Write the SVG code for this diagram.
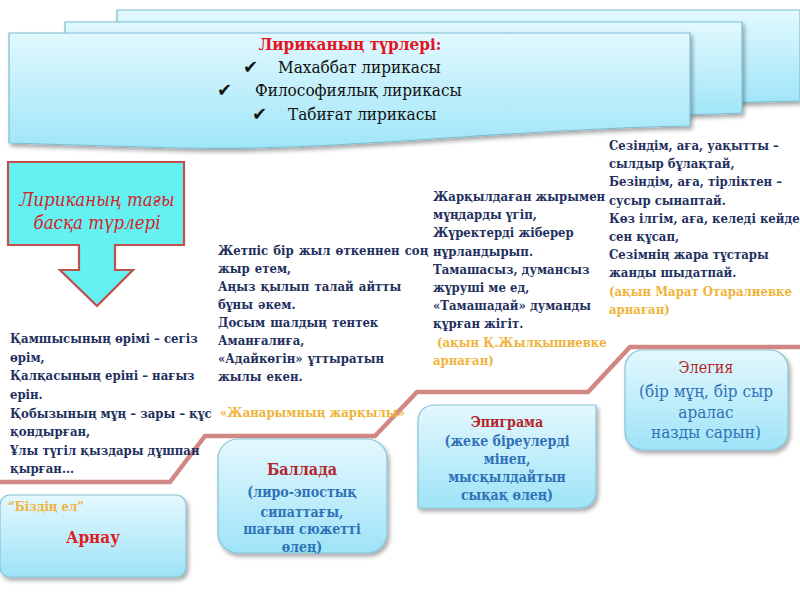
<svg xmlns="http://www.w3.org/2000/svg" width="800" height="600" viewBox="0 0 800 600">
<defs>
<linearGradient id="bannerGrad" x1="0" y1="0" x2="0" y2="1">
<stop offset="0" stop-color="#e2f9fe"/>
<stop offset="1" stop-color="#9fe5f8"/>
</linearGradient>
<linearGradient id="boxGrad" x1="0" y1="0" x2="0" y2="1">
<stop offset="0" stop-color="#e4f8fe"/>
<stop offset="1" stop-color="#9ee3f7"/>
</linearGradient>
<filter id="shadow" x="-10%" y="-10%" width="125%" height="130%">
<feGaussianBlur in="SourceAlpha" stdDeviation="2"/>
<feOffset dx="2" dy="3" result="b"/>
<feComponentTransfer><feFuncA type="linear" slope="0.35"/></feComponentTransfer>
<feMerge><feMergeNode/><feMergeNode in="SourceGraphic"/></feMerge>
</filter>
<style>
.banner{fill:url(#bannerGrad);stroke:#7dbdd2;stroke-width:1.2;filter:url(#shadow)}
.box{fill:url(#boxGrad);stroke:#86c3d6;stroke-width:1.2;filter:url(#shadow)}
.serif{font-family:'DejaVu Serif Condensed','DejaVu Serif',serif;font-stretch:condensed}
.poem{font-family:'DejaVu Serif Condensed','DejaVu Serif',serif;font-stretch:condensed;font-weight:bold;font-size:13px;fill:#23305e}
.gold{fill:#f0b43a}
.title{font-family:'DejaVu Serif Condensed','DejaVu Serif',serif;font-stretch:condensed;font-weight:bold;fill:#b3262b;text-anchor:middle}
.body{font-family:'DejaVu Serif Condensed','DejaVu Serif',serif;font-stretch:condensed;font-weight:bold;fill:#2f72b8;text-anchor:middle}
.item{font-family:'DejaVu Serif Condensed','DejaVu Serif',serif;font-stretch:condensed;font-size:17px;fill:#111}
.check{font-family:'DejaVu Sans',sans-serif;font-size:18px;fill:#111}
.step{fill:none;stroke:#c9726f;stroke-width:4.5;stroke-linejoin:miter;opacity:0.85}
</style>
</defs>
<rect width="800" height="600" fill="#ffffff"/>

<g id="banner">
<path class="banner" d="M117,10 H800 V101 C700,104 400,108 117,100 Z"/>
<path class="banner" d="M65,22 H742 V113 C600,118 300,122 65,112 Z"/>
<path class="banner" d="M9,33 H690 V126 C520,128 330,152 180,148 C100,146 40,144 9,143 Z"/>
<text class="serif" x="350" y="50" font-size="17" font-weight="bold" fill="#e3141f" text-anchor="middle">Лириканың түрлері:</text>
<text class="check" x="243" y="73">✔</text>
<text class="item" x="278" y="73">Махаббат лирикасы</text>
<text class="check" x="217" y="96">✔</text>
<text class="item" x="255" y="96">Философиялық лирикасы</text>
<text class="check" x="252" y="120">✔</text>
<text class="item" x="288" y="120">Табиғат лирикасы</text>
</g>

<g id="arrow">
<path d="M8,162 H184 V245 H115 V270 H133 L97,306 L60,270 H79 V245 H8 Z" fill="#66f1f1" stroke="#c0504d" stroke-width="2.2"/>
<text class="serif" x="97" y="206" font-size="18.5" font-style="italic" fill="#d2232a" text-anchor="middle">Лириканың тағы</text>
<text class="serif" x="97" y="229" font-size="18.5" font-style="italic" fill="#d2232a" text-anchor="middle">басқа түрлері</text>
</g>

<g id="connectors">
<polyline class="step" points="0,482 170,482 205,436 375,436 417,392 588,392 630,347 800,347"/>
</g>

<g id="poem1">
<text class="poem" x="10" y="343">Қамшысының өрімі – сегіз</text>
<text class="poem" x="10" y="362">өрім,</text>
<text class="poem" x="10" y="380">Қалқасының еріні – нағыз</text>
<text class="poem" x="10" y="399">ерін.</text>
<text class="poem" x="10" y="418">Қобызының мұң – зары – құс</text>
<text class="poem" x="10" y="436">қондырған,</text>
<text class="poem" x="10" y="455">Ұлы түгіл қыздары дұшпан</text>
<text class="poem" x="10" y="473">қырған...</text>
</g>

<g id="poem2">
<text class="poem" x="218" y="255" word-spacing="1">Жетпіс бір жыл өткеннен соң</text>
<text class="poem" x="218" y="273" word-spacing="1">жыр етем,</text>
<text class="poem" x="218" y="291" word-spacing="1">Аңыз қылып талай айтты</text>
<text class="poem" x="218" y="309" word-spacing="1">бұны әкем.</text>
<text class="poem" x="218" y="327" word-spacing="1">Досым шалдың тентек</text>
<text class="poem" x="218" y="345" word-spacing="1">Аманғалиға,</text>
<text class="poem" x="218" y="363" word-spacing="1">«Адайкөгін» ұттыратын</text>
<text class="poem" x="218" y="381" word-spacing="1">жылы екен.</text>
<text class="poem gold" x="220" y="417">«Жанарымның жарқылы»</text>
</g>

<g id="poem3">
<text class="poem" x="433" y="201">Жарқылдаған жырымен</text>
<text class="poem" x="433" y="219">мұңдарды үгіп,</text>
<text class="poem" x="433" y="237">Жүректерді жіберер</text>
<text class="poem" x="433" y="256">нұрландырып.</text>
<text class="poem" x="433" y="274">Тамашасыз, думансыз</text>
<text class="poem" x="433" y="292">жүруші ме ед,</text>
<text class="poem" x="433" y="310">«Тамашадай» думанды</text>
<text class="poem" x="433" y="328">құрған жігіт.</text>
<text class="poem gold" x="437" y="347">(ақын Қ.Жылқышиевке</text>
<text class="poem gold" x="433" y="365">арнаған)</text>
</g>

<g id="poem4">
<text class="poem" x="609" y="150">Сезіндім, аға, уақытты –</text>
<text class="poem" x="609" y="168">сылдыр бұлақтай,</text>
<text class="poem" x="609" y="186">Безіндім, аға, тірліктен –</text>
<text class="poem" x="609" y="205">сусыр сынаптай.</text>
<text class="poem" x="609" y="223">Көз ілгім, аға, келеді кейде</text>
<text class="poem" x="609" y="241">сен құсап,</text>
<text class="poem" x="609" y="259">Сезімнің жара тұстары</text>
<text class="poem" x="609" y="277">жанды шыдатпай.</text>
<text class="poem gold" x="609" y="296">(ақын Марат Отаралиевке</text>
<text class="poem gold" x="609" y="314">арнаған)</text>
</g>

<g id="arnau">
<rect class="box" x="0" y="495" width="186" height="82" rx="10"/>
<text class="serif" x="8" y="511" font-size="13" font-weight="bold" fill="#f0b43a">“Біздің ел”</text>
<text class="serif" x="93" y="543" font-size="17" font-weight="bold" fill="#e01b22" text-anchor="middle">Арнау</text>
</g>

<g id="ballada">
<rect class="box" x="218" y="439" width="169" height="114" rx="20"/>
<text class="title" x="302" y="475" font-size="16">Баллада</text>
<text class="body" x="302" y="497" font-size="14">(лиро-эпостық</text>
<text class="body" x="302" y="517" font-size="14">сипаттағы,</text>
<text class="body" x="302" y="534" font-size="14">шағын сюжетті</text>
<text class="body" x="302" y="552" font-size="14">өлең)</text>
</g>

<g id="epigram">
<path class="box" d="M436,405 H596 V490 Q596,508 578,508 H418 V423 Q418,405 436,405 Z"/>
<text class="title" x="507" y="427" font-size="14">Эпиграма</text>
<text class="body" x="507" y="446" font-size="14">(жеке біреулерді</text>
<text class="body" x="507" y="464" font-size="14">мінеп,</text>
<text class="body" x="507" y="482" font-size="14">мысқылдайтын</text>
<text class="body" x="507" y="500" font-size="14">сықақ өлең)</text>
</g>

<g id="elegy">
<rect class="box" x="625" y="350" width="163" height="100" rx="18"/>
<text class="serif" x="706" y="373" font-size="16" fill="#b3262b" text-anchor="middle">Элегия</text>
<text class="serif" x="706" y="397" font-size="17" fill="#2f72b8" text-anchor="middle">(бір мұң, бір сыр</text>
<text class="serif" x="706" y="418" font-size="17" fill="#2f72b8" text-anchor="middle">аралас</text>
<text class="serif" x="706" y="438" font-size="17" fill="#2f72b8" text-anchor="middle">назды сарын)</text>
</g>
</svg>
